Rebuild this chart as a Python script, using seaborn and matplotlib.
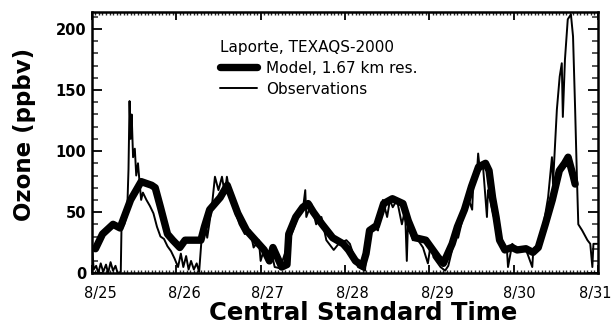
import matplotlib
matplotlib.use("Agg")
import matplotlib.pyplot as plt
import matplotlib.transforms as mtransforms
from matplotlib.ticker import MultipleLocator
import seaborn as sns

# hours since 8/25 00:00 CST
model_hours = [1, 3, 6, 8, 11, 14, 17, 18, 19.5, 21.5, 23, 25, 26.5, 31, 32, 33.5,
               36.5, 38.5, 41.5, 44, 46.5, 49, 50.5, 51.5, 54, 55.5, 56, 58, 60,
               61.5, 63, 65.5, 68.5, 71.5, 73, 75, 77, 78, 79, 81, 83, 85.5, 88.5,
               90, 92, 95, 97, 98.5, 100, 102.5, 104, 106, 108, 110, 112, 113, 114,
               115, 116, 117.5, 119.5, 121, 123.5, 125.5, 127, 129, 131, 133, 134.5,
               135.5, 137, 137.5]
model_ozone = [20, 32, 40, 37, 60, 75, 72, 70, 54, 32, 27, 21, 27, 27, 38, 52,
               62, 72, 49, 35, 27, 19, 10, 21, 5, 7, 32, 46, 54,
               57, 50, 40, 29, 24, 19, 10, 6, 16, 35, 39, 57, 61, 57,
               43, 29, 27, 19, 13, 8, 24, 38, 52, 71, 87, 90, 84, 62,
               46, 27, 19, 21, 19, 20, 17, 21, 40, 60, 84, 90,
               95, 79, 73]

obs_hours = [0, 0.5, 1.2, 1.8, 2.5, 3.2, 4, 4.6, 5.3, 6, 6.7, 7.3, 8.2, 8.4, 9.2,
             10, 10.4, 10.7, 11.0, 11.3, 11.7, 12.2, 12.6, 13.1, 13.5, 14, 14.5,
             15.5, 16.5, 17.5, 18.5, 19.5, 20.5, 21.5, 22.5, 23.5, 24.5, 25.3, 26,
             26.8, 27.5, 28.2, 29, 29.8, 30.5, 31.3, 32.2, 32.8, 34.1, 35, 36, 37,
             37.8, 38.4, 39.2, 40.3, 42, 43.5, 45, 46, 47.5, 48, 49, 50, 51, 52,
             53.5, 56.2, 58.2, 60.1, 60.7, 61, 62.4, 63.8, 65.3, 66.7, 68.8, 70.2,
             72.4, 73.4, 74.3, 75.7, 77.7, 78.5, 80, 81.4, 82.8, 84, 84.8, 85.6,
             86.8, 88.2, 89.1, 89.6, 89.9, 91.3, 92.8, 94.2, 95.6, 96.4, 97.2, 99.2,
             100.5, 101.4, 102.5, 103.4, 104.2, 105.6, 107, 108.2, 108.5, 109.6,
             109.9, 110.4, 111.3, 112.4, 112.7, 113.9, 115.3, 116.7, 118.1, 118.4,
             119.6, 121.3, 123.3, 125.3, 125.6, 127, 128.4, 129.8, 130.9, 131.2,
             132.3, 133.1, 133.7, 134, 134.6, 135.4, 136.3, 136.9, 137.5, 138,
             138.4, 139.5, 141, 141.8, 142.4, 142.7, 143.8]
obs_ozone = [22, 3, 6, 0, 8, 1, 7, 0, 9, 2, 6, 0, 1, 36, 40,
             48, 85, 141, 110, 130, 95, 102, 80, 90, 76, 60, 66,
             60, 55, 49, 38, 30, 28, 22, 18, 12, 5, 16, 5,
             14, 3, 10, 3, 8, 1, 32, 43, 29, 54, 79, 68, 79,
             65, 79, 65, 54, 40, 32, 35, 21, 27, 10, 20, 12, 18, 5,
             4, 27, 43, 54, 68, 46, 57, 40, 46, 27, 19, 24,
             27, 24, 16, 5, 2, 29, 38, 35, 60, 46, 60, 54,
             60, 40, 52, 10, 38, 27, 27, 21, 8, 24, 13, 5,
             2, 6, 19, 35, 29, 46, 62, 52, 73, 84,
             98, 84, 87, 46, 68, 52, 35, 24, 19, 5,
             24, 19, 21, 5, 19, 24, 38, 62, 95, 73,
             134, 161, 172, 128, 175, 208, 212, 194, 134, 79,
             40, 35, 27, 24, 5, 24, 24]

day_ticks = [0, 24, 48, 72, 96, 120, 144]
day_labels = ['8/25', '8/26', '8/27', '8/28', '8/29', '8/30', '8/31']

sns.set_theme(style="ticks")
plt.rcParams['font.family'] = ['DejaVu Sans']
plt.rcParams.update({
    'xtick.direction': 'in', 'ytick.direction': 'in',
    'xtick.top': True, 'ytick.right': True,
    'axes.linewidth': 1.8, 'axes.edgecolor': 'black',
    'text.color': 'black', 'axes.labelcolor': 'black',
})

fig, ax = plt.subplots(figsize=(6.13, 3.24), dpi=100)
fig.subplots_adjust(left=0.150, right=0.9755, bottom=0.157, top=0.963)

sns.lineplot(x=model_hours, y=model_ozone, color='black', linewidth=5.3,
             label='Model, 1.67 km res.', ax=ax, estimator=None, sort=False)
sns.lineplot(x=obs_hours, y=obs_ozone, color='black', linewidth=1.4,
             label='Observations', ax=ax, estimator=None, sort=False)

ax.set_xlim(0, 144)
ax.set_ylim(0, 214)
ax.set_xticks(day_ticks)
ax.set_xticklabels(day_labels, fontsize=10.5)
ax.xaxis.set_minor_locator(MultipleLocator(1))
ax.yaxis.set_major_locator(MultipleLocator(50))
ax.yaxis.set_minor_locator(MultipleLocator(10))
ax.tick_params(axis='x', which='major', length=6, width=1.3, pad=9, colors='black')
ax.tick_params(axis='x', which='minor', length=2, width=1, top=True)
ax.tick_params(axis='y', which='major', length=7, width=1.3, pad=4, labelsize=10.5, colors='black')
ax.tick_params(axis='y', which='minor', length=4, width=1.1, right=True)
for lbl in ax.get_yticklabels():
    lbl.set_fontweight('bold')

# IDL puts the date labels a little right of the ticks (last one pulled in)
shifts = [8, 8, 7, 7, 8, 6, -3]
for lbl, dx in zip(ax.get_xticklabels(), shifts):
    off = mtransforms.ScaledTranslation(dx / 100, 0, fig.dpi_scale_trans)
    lbl.set_transform(lbl.get_transform() + off)

ax.set_xlabel('Central Standard Time', fontsize=17.5, fontweight='bold',
              va='center', color='black')
ax.xaxis.set_label_coords(0.536, -0.153)
ax.set_ylabel('Ozone (ppbv)', fontsize=16.5, fontweight='bold', va='center',
              color='black')
ax.yaxis.set_label_coords(-0.134, 0.532)

leg = ax.legend(title='Laporte, TEXAQS-2000', loc='upper left',
                bbox_to_anchor=(0.253, 0.893), frameon=False, alignment='left',
                fontsize=11, title_fontsize=11, handlelength=2.4,
                handletextpad=0.6, borderpad=0, labelspacing=0.38,
                borderaxespad=0)
for t in leg.get_texts():
    t.set_color('black')
leg.get_title().set_color('black')

fig.savefig('out.png', dpi=100)
